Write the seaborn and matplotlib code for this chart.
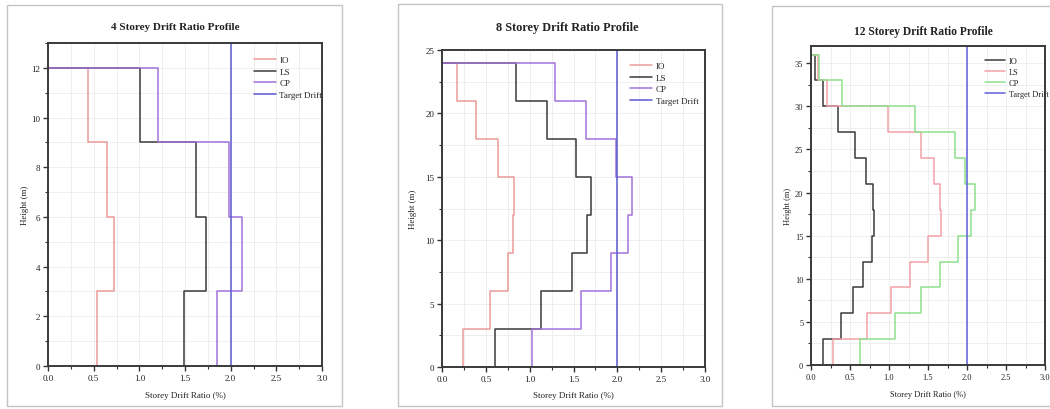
import numpy as np
import pandas as pd
import matplotlib
matplotlib.use("Agg")
import matplotlib.pyplot as plt
import seaborn as sns
from matplotlib.ticker import MultipleLocator
from matplotlib.patches import Rectangle

# storey drift ratio (%) of each storey, from ground to roof
floors_4 = [0, 3, 6, 9, 12]
io_4 = [0.54, 0.72, 0.65, 0.44]
ls_4 = [1.49, 1.73, 1.62, 1.01]
cp_4 = [1.85, 2.12, 1.98, 1.20]

floors_8 = [0, 3, 6, 9, 12, 15, 18, 21, 24]
io_8 = [0.24, 0.55, 0.75, 0.81, 0.82, 0.64, 0.39, 0.17]
ls_8 = [0.60, 1.13, 1.48, 1.65, 1.70, 1.53, 1.20, 0.84]
cp_8 = [1.03, 1.58, 1.93, 2.12, 2.17, 1.98, 1.64, 1.29]

floors_12 = [0, 3, 6, 9, 12, 15, 18, 21, 24, 27, 30, 33, 36]
io_12 = [0.16, 0.38, 0.54, 0.67, 0.78, 0.81, 0.80, 0.70, 0.57, 0.34, 0.16, 0.05]
ls_12 = [0.28, 0.72, 1.02, 1.27, 1.50, 1.67, 1.66, 1.58, 1.41, 0.99, 0.20, 0.09]
cp_12 = [0.63, 1.08, 1.41, 1.65, 1.89, 2.05, 2.10, 1.98, 1.84, 1.33, 0.40, 0.10]

target_drift = 2.0
series_names = ["IO", "LS", "CP", "Target Drift"]
titles = ["4 Storey Drift Ratio Profile", "8 Storey Drift Ratio Profile",
          "12 Storey Drift Ratio Profile"]

colors_a = ["#ec9a9a", "#3a3a3a", "#a274d8", "#5a5ad0"]
colors_b = ["#3a3a3a", "#f2a0a8", "#8ee08e", "#6060d8"]


def step_points(values, floors):
    """vertical segment for each storey, horizontal jumps at floors, back to 0 at roof"""
    xs, ys = [], []
    for v, lo, hi in zip(values, floors[:-1], floors[1:]):
        xs += [v, v]
        ys += [lo, hi]
    xs.append(0.0)
    ys.append(floors[-1])
    return xs, ys


def profile_frame(floors, io, ls, cp, ytop):
    rows = []
    for name, vals in zip(series_names[:3], [io, ls, cp]):
        xs, ys = step_points(vals, floors)
        rows.append(pd.DataFrame({"drift": xs, "height": ys, "series": name}))
    rows.append(pd.DataFrame({"drift": [target_drift, target_drift],
                              "height": [0, ytop], "series": "Target Drift"}))
    return pd.concat(rows, ignore_index=True)


sns.set_theme(style="white")
plt.rcParams["font.family"] = ["Liberation Serif", "DejaVu Serif"]

fig = plt.figure(figsize=(10.5, 4.1), dpi=100)
W, H = 1050, 410

# panel boxes in pixels (x0, y0, x1, y1)
boxes = [(7, 6, 342, 407), (398, 5, 722, 407), (772, 7, 1052, 407)]
for x0, y0, x1, y1 in boxes:
    fig.add_artist(Rectangle((x0 / W, 1 - y1 / H), (x1 - x0) / W, (y1 - y0) / H,
                             transform=fig.transFigure, fill=False,
                             ec="#c4c4c4", lw=1.0))

panels = [
    dict(rect=(48, 44, 322, 367), floors=floors_4, io=io_4, ls=ls_4, cp=cp_4,
         ytop=13, ymaj=2, ymin=1, colors=colors_a, title_xy=(175, 28), tsize=8,
         leg=(1.0, 0.96), ylab=-0.068, xlab=-0.077, fs=6.5),
    dict(rect=(442, 51, 705, 368), floors=floors_8, io=io_8, ls=ls_8, cp=cp_8,
         ytop=25, ymaj=5, ymin=2.5, colors=colors_a, title_xy=(567, 28), tsize=8.8,
         leg=(0.975, 0.962), ylab=-0.094, xlab=-0.075, fs=6.5),
    dict(rect=(811, 47, 1045, 366), floors=floors_12, io=io_12, ls=ls_12, cp=cp_12,
         ytop=37, ymaj=5, ymin=2.5, colors=colors_b, title_xy=(923, 32), tsize=8.3,
         leg=(1.015, 0.965), ylab=-0.081, xlab=-0.077, fs=6),
]

for p, title in zip(panels, titles):
    x0, y0, x1, y1 = p["rect"]
    ax = fig.add_axes([x0 / W, 1 - y1 / H, (x1 - x0) / W, (y1 - y0) / H])
    df = profile_frame(p["floors"], p["io"], p["ls"], p["cp"], p["ytop"])
    ax.grid(which="both", color="#ececec", lw=0.6)
    ax.set_axisbelow(True)
    sns.lineplot(data=df, x="drift", y="height", hue="series",
                 hue_order=series_names, palette=p["colors"],
                 sort=False, estimator=None, lw=1.1, ax=ax)
    ax.set_xlim(0, 3)
    ax.set_ylim(0, p["ytop"])
    ax.xaxis.set_major_locator(MultipleLocator(0.5))
    ax.xaxis.set_minor_locator(MultipleLocator(0.25))
    ax.yaxis.set_major_locator(MultipleLocator(p["ymaj"]))
    ax.yaxis.set_minor_locator(MultipleLocator(p["ymin"]))
    ax.xaxis.set_major_formatter(matplotlib.ticker.FormatStrFormatter("%.1f"))
    ax.tick_params(which="major", direction="out", length=3.5, width=1,
                   labelsize=p["fs"], pad=2, colors="#333333", labelcolor="#222222",
                   bottom=True, left=True)
    ax.tick_params(which="minor", direction="out", length=2, width=0.8,
                   colors="#333333", bottom=True, left=True)
    for s in ax.spines.values():
        s.set_color("#3a3a3a")
        s.set_linewidth(1.4)
    ax.set_xlabel("Storey Drift Ratio (%)", fontsize=p["fs"], color="#222222")
    ax.set_ylabel("Height (m)", fontsize=p["fs"], color="#222222")
    ax.xaxis.set_label_coords(0.5, p["xlab"])
    ax.yaxis.set_label_coords(p["ylab"], 0.5)
    sns.move_legend(ax, "upper right", bbox_to_anchor=p["leg"], frameon=False,
                    title=None, fontsize=p["fs"], borderaxespad=0, borderpad=0,
                    handlelength=2.4, handletextpad=0.4, labelspacing=0.35)
    tx, ty = p["title_xy"]
    fig.text(tx / W, 1 - ty / H, title, ha="center", va="center",
             fontsize=p["tsize"], fontweight="bold", color="#222222")

fig.savefig("out.png", dpi=100)
